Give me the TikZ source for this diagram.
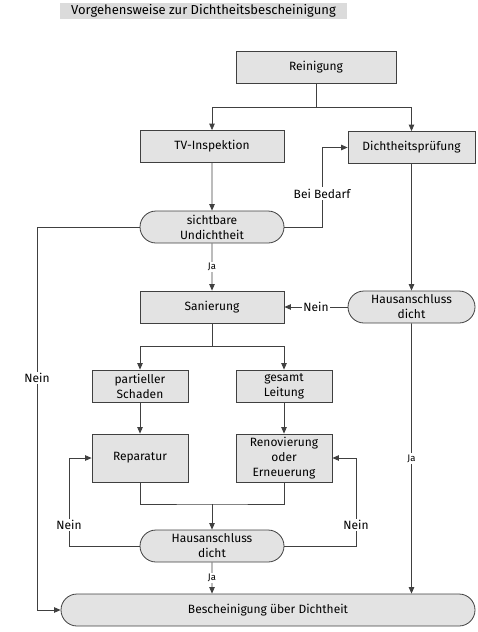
\documentclass[tikz,border=0pt]{standalone}
\usepackage{fontspec}
\setmainfont{Fira Sans}
\usetikzlibrary{arrows.meta,shapes.misc}

\begin{document}
\begin{tikzpicture}[x=1pt,y=-1pt,
		>={Triangle[length=6.5pt,width=5.5pt]},
		linie/.style={draw=black!75, line width=0.8pt},
		kasten/.style={draw=black!75, line width=0.8pt, fill=black!11, minimum width=144, minimum height=32,
			inner sep=0pt, align=center, font=\fontsize{12}{15}\selectfont},
		frage/.style={kasten, rounded rectangle},
		beschr/.style={fill=white, inner sep=1.5pt, font=\fontsize{12}{14}\selectfont},
		klein/.style={beschr, font=\fontsize{9.5}{10}\selectfont}]
		\useasboundingbox (0,0) rectangle (478,632);
		
		% Ueberschrift
		\node[fill=black!14, minimum width=287, minimum height=16, inner sep=0pt,
			font=\fontsize{13}{14}\selectfont] (titel) at (203.5,11) {Vorgehensweise zur Dichtheitsbescheinigung};
		
		% zeichne Kaesten
		\node[kasten, minimum width=160] (rein) at (316,67) {Reinigung};
		\node[kasten] (tv) at (212,146.5) {TV-Inspektion};
		\node[kasten, minimum width=127] (dp) at (411.5,147.5) {Dichtheitsprüfung};
		\node[frage] (sicht) at (212,227) {sichtbare\\Undichtheit};
		\node[kasten] (san) at (212,307) {Sanierung};
		\node[frage, minimum width=127] (hd) at (411.5,307) {Hausanschluss\\dicht};
		\node[kasten, minimum width=96] (part) at (140,386) {partieller\\Schaden};
		\node[kasten, minimum width=96] (ges) at (284,386) {gesamt\\Leitung};
		\node[kasten, minimum width=96, minimum height=48] (rep) at (140,458) {Reparatur};
		\node[kasten, minimum width=96, minimum height=48] (reno) at (284,458) {Renovierung\\oder\\Erneuerung};
		\node[frage] (hd2) at (212,546) {Hausanschluss\\dicht};
		\node[frage, minimum width=414] (besch) at (268,610) {Bescheinigung über Dichtheit};
		
		% Knickpunkte
		\coordinate (k1) at (316,107);
		\coordinate (k2) at (322,227);
		\coordinate (k3) at (37,227);
		\coordinate (k4) at (212,346);
		\coordinate (k5) at (212,504);
		\coordinate (k6) at (69,546);
		\coordinate (k7) at (356,546);
		
		% zeichne Verbindungen
		\begin{scope}[every path/.append style={linie}]
			\draw (rein) -- (k1);
			\draw[->] (k1) -| (tv);
			\draw[->] (k1) -| (dp);
			\draw[->] (tv) -- (sicht);
			\draw[->] (sicht.east) -- (k2) |- (dp.west) node[beschr, pos=0.21] {Bei Bedarf};
			\draw[->] (sicht.west) -- (k3) |- (besch.west) node[beschr, pos=0.197] {Nein};
			\draw[->] (sicht) -- node[klein] {Ja} (san);
			\draw[->] (dp) -- (hd);
			\draw[->] (hd) -- node[beschr] {Nein} (san);
			\draw[->] (hd) -- node[klein] {Ja} (besch.north -| hd);
			\draw (san) -- (k4);
			\draw[->] (k4) -| (part);
			\draw[->] (k4) -| (ges);
			\draw[->] (part) -- (rep);
			\draw[->] (ges) -- (reno);
			\draw (rep) |- (k5) -| (reno);
			\draw[->] (k5) -- (hd2);
			\draw[->] (hd2.west) -- (k6) |- (rep.west) node[beschr, pos=0.12] {Nein};
			\draw[->] (hd2.east) -- (k7) |- (reno.east) node[beschr, pos=0.12] {Nein};
			\draw[->] (hd2) -- node[klein] {Ja} (besch.north -| hd2);
		\end{scope}
	\end{tikzpicture}
\end{document}
